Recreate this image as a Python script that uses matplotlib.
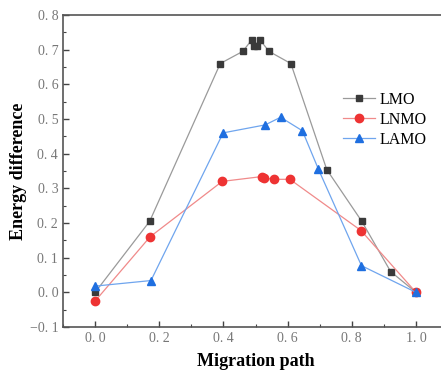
import matplotlib.pyplot as plt
from matplotlib.ticker import MultipleLocator

# data
lmo_x = [0.0, 0.17, 0.39, 0.46, 0.488, 0.494, 0.505, 0.514, 0.542, 0.61, 0.722, 0.831, 0.921, 1.0]
lmo_y = [0.0, 0.205, 0.66, 0.695, 0.728, 0.712, 0.712, 0.728, 0.695, 0.66, 0.354, 0.205, 0.06, 0.0]

lnmo_x = [0.0, 0.171, 0.396, 0.52, 0.526, 0.556, 0.607, 0.829, 1.0]
lnmo_y = [-0.025, 0.16, 0.32, 0.334, 0.33, 0.326, 0.326, 0.178, 0.0]

lamo_x = [0.0, 0.174, 0.399, 0.53, 0.578, 0.646, 0.696, 0.83, 1.0]
lamo_y = [0.018, 0.034, 0.46, 0.483, 0.505, 0.466, 0.355, 0.077, 0.0]

serif = ["Liberation Serif", "DejaVu Serif"]
plt.rcParams["font.family"] = serif

fig = plt.figure(figsize=(4.41, 3.73), dpi=100)
ax = fig.add_axes([0.143, 0.1233, 0.873, 0.8365])

ax.plot(lmo_x, lmo_y, color="#9a9a9a", lw=0.9, marker="s", ms=5,
        mfc="#3a3a3a", mec="#3a3a3a", label="LMO")
ax.plot(lnmo_x, lnmo_y, color="#f08a8a", lw=0.9, marker="o", ms=6,
        mfc="#ee3333", mec="#ee3333", label="LNMO")
ax.plot(lamo_x, lamo_y, color="#6fa5ee", lw=0.9, marker="^", ms=6,
        mfc="#1f6fe0", mec="#1f6fe0", label="LAMO")

ax.set_xlim(-0.1, 1.1)
ax.set_ylim(-0.1, 0.8)
ax.xaxis.set_major_locator(MultipleLocator(0.2))
ax.xaxis.set_minor_locator(MultipleLocator(0.1))
ax.yaxis.set_major_locator(MultipleLocator(0.1))
ax.yaxis.set_minor_locator(MultipleLocator(0.05))
ax.tick_params(which="both", direction="in", colors="#444444", labelcolor="#777777",
               labelsize=10)
ax.tick_params(which="major", length=4, width=1)
ax.tick_params(which="minor", length=2, width=0.8)
ax.set_xticks([0.0, 0.2, 0.4, 0.6, 0.8, 1.0])
ax.set_xticklabels(["0. 0", "0. 2", "0. 4", "0. 6", "0. 8", "1. 0"])
ax.set_yticks([-0.1, 0.0, 0.1, 0.2, 0.3, 0.4, 0.5, 0.6, 0.7, 0.8])
ax.set_yticklabels(["\u22120. 1", "0. 0", "0. 1", "0. 2", "0. 3", "0. 4",
                    "0. 5", "0. 6", "0. 7", "0. 8"])
for s in ax.spines.values():
    s.set_color("#555555")
    s.set_linewidth(1.2)

ax.set_xlabel("Migration path", fontsize=13, fontweight="bold", labelpad=6)
ax.set_ylabel("Energy difference", fontsize=13, fontweight="bold", labelpad=2)

ax.legend(loc="upper left", bbox_to_anchor=(0.69, 0.80), frameon=False,
          fontsize=11.5, handlelength=2.0, handletextpad=0.3, labelspacing=0.25)

fig.savefig("out.png", dpi=100)
